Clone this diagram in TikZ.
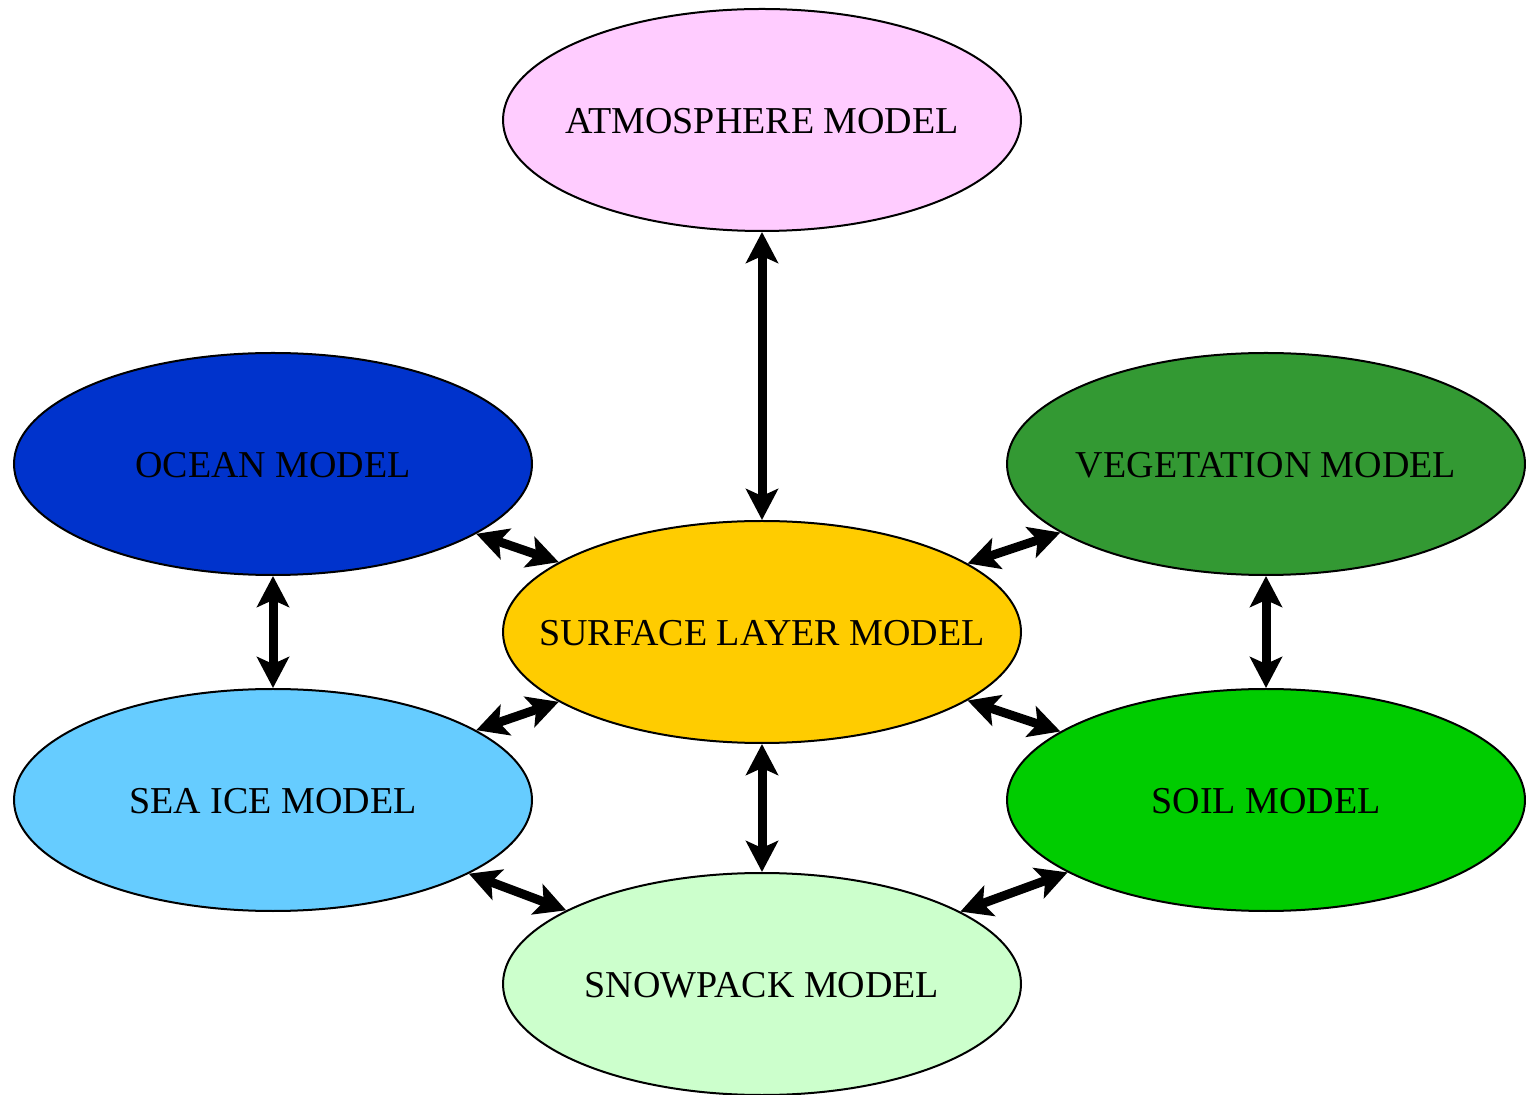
\documentclass[tikz,border=0pt]{standalone}
\usepackage{fontspec}
\setmainfont{Liberation Serif}
\usetikzlibrary{arrows.meta,shapes.geometric}
\definecolor{atm}{HTML}{FFCCFF}
\definecolor{ocn}{HTML}{0033CC}
\definecolor{veg}{HTML}{339933}
\definecolor{sfc}{HTML}{FFCC00}
\definecolor{ice}{HTML}{66CCFF}
\definecolor{soil}{HTML}{00CC00}
\definecolor{snow}{HTML}{CCFFCC}
\newcommand{\mtext}[1]{\raisebox{-6.75pt}[0pt][0pt]{\makebox[0pt]{#1}}}
\begin{document}
\begin{tikzpicture}[x=0.5pt,y=-0.5pt,
  model/.style={ellipse,draw=black,line width=1pt,minimum width=259pt,minimum height=111pt,inner sep=0pt,
    font=\fontsize{19}{22}\selectfont},
  link/.style={line width=4.5pt,{Stealth[length=15.5pt,width=16pt,inset=3.5pt]}-{Stealth[length=15.5pt,width=16pt,inset=3.5pt]}}]
\useasboundingbox (0,0) rectangle (1526,1095);
\node[model,fill=atm]  (atm)  at (762,120) {\mtext{ATMOSPHERE MODEL}};
\node[model,fill=ocn]  (ocn)  at (273,464) {\mtext{OCEAN MODEL}};
\node[model,fill=veg]  (veg)  at (1266,464) {\mtext{VEGETATION MODEL}};
\node[model,fill=sfc]  (sfc)  at (762,632) {\mtext{SURFACE LAYER MODEL}};
\node[model,fill=ice]  (ice)  at (273,800) {\mtext{SEA ICE MODEL}};
\node[model,fill=soil] (soil) at (1266,800) {\mtext{SOIL MODEL}};
\node[model,fill=snow] (snow) at (762,984) {\mtext{SNOWPACK MODEL}};
\draw[link] (atm) -- (sfc);
\draw[link] (ocn) -- (sfc);
\draw[link] (veg) -- (sfc);
\draw[link] (ice) -- (sfc);
\draw[link] (soil) -- (sfc);
\draw[link] (snow) -- (sfc);
\draw[link] (ocn) -- (ice);
\draw[link] (veg) -- (soil);
\draw[link] (ice) -- (snow);
\draw[link] (soil) -- (snow);
\end{tikzpicture}
\end{document}
